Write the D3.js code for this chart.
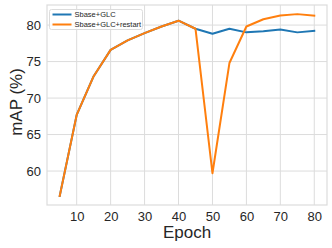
<!DOCTYPE html>
<html>
<head>
<meta charset="utf-8">
<script src="https://cdn.jsdelivr.net/npm/d3@7"></script>
<style>
  body { margin: 0; background: #fff; }
  svg { display: block; font-family: "Liberation Sans", Arial, sans-serif; }
</style>
</head>
<body>
<div id="chart"></div>
<script>
const epochs = [5, 10, 15, 20, 25, 30, 35, 40, 45, 50, 55, 60, 65, 70, 75, 80]
const glc = [56.6, 67.7, 73.0, 76.6, 77.9, 78.9, 79.8, 80.6, 79.5, 78.8, 79.5, 79.0, 79.15, 79.4, 79.0, 79.2]
const glcRestart = [56.6, 67.7, 73.0, 76.6, 77.9, 78.9, 79.8, 80.6, 79.5, 59.7, 74.8, 79.8, 80.8, 81.3, 81.5, 81.3]
const xTicks = [10, 20, 30, 40, 50, 60, 70, 80]
const yTicks = [60, 65, 70, 75, 80]
const seriesNames = ['Sbase+GLC', 'Sbase+GLC+restart']
const seriesColors = ['#1f77b4', '#ff7f0e']

const width = 332, height = 248
const margin = { top: 5, right: 5, bottom: 43, left: 47 }
const gridColor = '#dcdcdc'

const svg = d3.select('#chart').append('svg')
    .attr('width', width)
    .attr('height', height)

const x = d3.scaleLinear()
    .domain([1.25, 83.75])
    .range([margin.left, width - margin.right])

const y = d3.scaleLinear()
    .domain([55.35, 82.75])
    .range([height - margin.bottom, margin.top])

// grid
svg.append('g')
    .selectAll('line')
    .data(xTicks)
    .join('line')
    .attr('x1', d => x(d)).attr('x2', d => x(d))
    .attr('y1', margin.top).attr('y2', height - margin.bottom)
    .attr('stroke', gridColor).attr('stroke-width', 1)

svg.append('g')
    .selectAll('line')
    .data(yTicks)
    .join('line')
    .attr('x1', margin.left).attr('x2', width - margin.right)
    .attr('y1', d => y(d)).attr('y2', d => y(d))
    .attr('stroke', gridColor).attr('stroke-width', 1)

// frame
svg.append('rect')
    .attr('x', margin.left).attr('y', margin.top)
    .attr('width', width - margin.left - margin.right)
    .attr('height', height - margin.top - margin.bottom)
    .attr('fill', 'none')
    .attr('stroke', gridColor).attr('stroke-width', 1.2)

// axes
const xAxis = svg.append('g')
    .attr('transform', `translate(0,${height - margin.bottom})`)
    .call(d3.axisBottom(x).tickValues(xTicks).tickSize(0).tickPadding(7))
xAxis.select('.domain').remove()
xAxis.selectAll('text').attr('font-size', 13).attr('fill', '#262626')
    .attr('font-family', '"Liberation Sans", Arial, sans-serif')

const yAxis = svg.append('g')
    .attr('transform', `translate(${margin.left},0)`)
    .call(d3.axisLeft(y).tickValues(yTicks).tickSize(0).tickPadding(6))
yAxis.select('.domain').remove()
yAxis.selectAll('text').attr('font-size', 13).attr('fill', '#262626')
    .attr('font-family', '"Liberation Sans", Arial, sans-serif')

// axis labels
svg.append('text')
    .attr('x', x(42.5)).attr('y', 238)
    .attr('text-anchor', 'middle')
    .attr('font-size', 17).attr('fill', '#262626')
    .text('Epoch')

svg.append('text')
    .attr('transform', 'translate(22,102) rotate(-90)')
    .attr('text-anchor', 'middle')
    .attr('font-size', 17).attr('fill', '#262626')
    .text('mAP (%)')

// lines
const line = d3.line()
    .x((d, i) => x(epochs[i]))
    .y(d => y(d))

;[glc, glcRestart].forEach((s, k) => {
    svg.append('path')
        .datum(s)
        .attr('d', line)
        .attr('fill', 'none')
        .attr('stroke', seriesColors[k])
        .attr('stroke-width', 2)
        .attr('stroke-linejoin', 'round')
        .attr('stroke-linecap', 'square')
})

// legend
const legend = svg.append('g')
legend.append('rect')
    .attr('x', 49.5).attr('y', 9.5)
    .attr('width', 93).attr('height', 20)
    .attr('rx', 2)
    .attr('fill', 'rgba(255,255,255,0.8)')
    .attr('stroke', '#dcdcdc').attr('stroke-width', 1)

seriesNames.forEach((name, k) => {
    const ly = 14.5 + k * 10
    legend.append('line')
        .attr('x1', 52.5).attr('x2', 71.5)
        .attr('y1', ly).attr('y2', ly)
        .attr('stroke', seriesColors[k]).attr('stroke-width', 2)
    legend.append('text')
        .attr('x', 74.5).attr('y', ly)
        .attr('dy', '0.35em')
        .attr('font-size', 7.5).attr('fill', '#262626')
        .text(name)
})
</script>
</body>
</html>
